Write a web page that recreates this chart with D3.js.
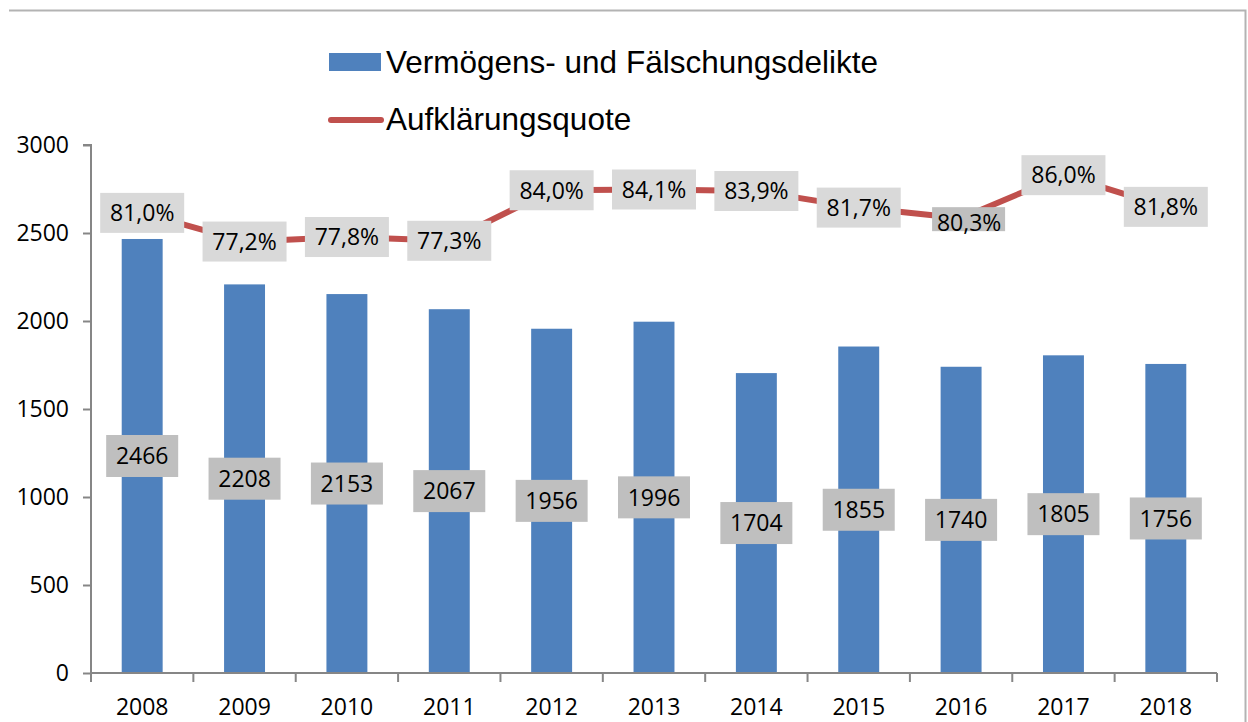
<!DOCTYPE html>
<html>
<head>
<meta charset="utf-8">
<script src="https://cdn.jsdelivr.net/npm/d3@7"></script>
<style>
  body { margin: 0; background: #fff; }
</style>
</head>
<body>
<script>
let width = 1248;
let height = 722;

// data
let years = ["2008", "2009", "2010", "2011", "2012", "2013", "2014", "2015", "2016", "2017", "2018"];
let cases = [2466, 2208, 2153, 2067, 1956, 1996, 1704, 1855, 1740, 1805, 1756];
let rates = [81.0, 77.2, 77.8, 77.3, 84.0, 84.1, 83.9, 81.7, 80.3, 86.0, 81.8];
let yTicks = [0, 500, 1000, 1500, 2000, 2500, 3000];
let barName = "Vermögens- und Fälschungsdelikte";
let lineName = "Aufklärungsquote";

let svg = d3.select("body")
            .append("svg")
            .attr("width", width)
            .attr("height", height);

let numFont = "'Open Sans', sans-serif";
let numSize = "23px";
let legendFont = "'Liberation Sans', Arial, sans-serif";
let axisColor = "#868686";

// frame: top and right edge only visible
svg.append("path")
    .attr("d", "M9,10.5 H1245.5 V722")
    .attr("fill", "none")
    .attr("stroke", "#b3b3b3")
    .attr("stroke-width", 2);

let x = d3.scaleBand()
    .domain(years)
    .range([91, 1217])
    .paddingInner(0.6)
    .paddingOuter(0.3);

let y = d3.scaleLinear()
    .domain([0, 3000])
    .range([673, 145]);

// hidden secondary axis for the percentage line
let y2 = d3.scaleLinear()
    .domain([20, 90])
    .range([673, 145]);

// y axis
let yAxis = svg.append("g")
    .attr("transform", "translate(91,0)")
    .call(d3.axisLeft(y).tickValues(yTicks).tickFormat(d => d).tickSize(8).tickPadding(14));
yAxis.select(".domain").attr("stroke", axisColor).attr("stroke-width", 2)
    .attr("d", "M-8," + y(3000) + "H0V" + y(0));
yAxis.selectAll(".tick line").attr("stroke", axisColor).attr("stroke-width", 2);
yAxis.selectAll(".tick text")
    .style("font-family", numFont)
    .style("font-size", numSize)
    .attr("fill", "#000");

// bars
svg.append("g")
    .selectAll("rect")
    .data(cases)
    .join("rect")
    .attr("x", (d, i) => x(years[i]))
    .attr("y", d => y(d))
    .attr("width", x.bandwidth())
    .attr("height", d => y(0) - y(d))
    .attr("fill", "#4f81bd");

// x axis
let xAxis = svg.append("g")
    .attr("transform", "translate(0," + y(0) + ")")
    .call(d3.axisBottom(x).tickSize(0).tickPadding(26));
xAxis.select(".domain").attr("stroke", axisColor).attr("stroke-width", 2)
    .attr("d", "M91,0H1217");
xAxis.selectAll(".tick text")
    .style("font-family", numFont)
    .style("font-size", numSize)
    .attr("fill", "#000");
let sepTicks = d3.range(years.length + 1).map(i => 91 + i * (1217 - 91) / years.length);
xAxis.selectAll(".sep")
    .data(sepTicks)
    .join("line")
    .attr("class", "sep")
    .attr("x1", d => d).attr("x2", d => d)
    .attr("y1", 0).attr("y2", 9)
    .attr("stroke", axisColor)
    .attr("stroke-width", 2);

// bar labels
let barLab = svg.append("g")
    .selectAll("g")
    .data(cases)
    .join("g")
    .attr("transform", (d, i) => "translate(" + (x(years[i]) + x.bandwidth() / 2) + "," + y(d / 2) + ")");
barLab.append("rect")
    .attr("x", -36).attr("y", -21)
    .attr("width", 72).attr("height", 42)
    .attr("fill", "#bfbfbf");
barLab.append("text")
    .attr("text-anchor", "middle")
    .attr("dy", "0.36em")
    .style("font-family", numFont)
    .style("font-size", numSize)
    .text(d => d);

// line
let cx = i => x(years[i]) + x.bandwidth() / 2;
let line = d3.line()
    .x((d, i) => cx(i))
    .y(d => y2(d));
svg.append("path")
    .attr("d", line(rates))
    .attr("fill", "none")
    .attr("stroke", "#c0504d")
    .attr("stroke-width", 6)
    .attr("stroke-linejoin", "round");

// line labels
let fmt = v => v.toFixed(1).replace(".", ",") + "%";
let lineLab = svg.append("g")
    .selectAll("g")
    .data(rates)
    .join("g")
    .attr("transform", (d, i) => "translate(" + cx(i) + "," + y2(d) + ")");
lineLab.append("rect")
    .attr("x", (d, i) => i === 8 ? -29 : -42)
    .attr("y", (d, i) => i === 8 ? -11 : -20)
    .attr("width", (d, i) => i === 8 ? 73 : 84)
    .attr("height", (d, i) => i === 8 ? 24 : 40)
    .attr("fill", (d, i) => i === 8 ? "#bfbfbf" : "#d9d9d9");
lineLab.append("text")
    .attr("text-anchor", "middle")
    .attr("x", (d, i) => i === 8 ? 8 : 0)
    .attr("dy", (d, i) => i === 8 ? "0.55em" : "0.36em")
    .style("font-family", numFont)
    .style("font-size", numSize)
    .text(d => fmt(d));

// legend
let legend = svg.append("g");
legend.append("rect")
    .attr("x", 329).attr("y", 53)
    .attr("width", 52).attr("height", 18)
    .attr("fill", "#4f81bd");
legend.append("text")
    .attr("x", 386).attr("y", 73)
    .style("font-family", legendFont)
    .style("font-size", "31.5px")
    .text(barName);
legend.append("line")
    .attr("x1", 331).attr("x2", 381)
    .attr("y1", 120).attr("y2", 120)
    .attr("stroke", "#c0504d")
    .attr("stroke-width", 6)
    .attr("stroke-linecap", "round");
legend.append("text")
    .attr("x", 386).attr("y", 130)
    .style("font-family", legendFont)
    .style("font-size", "31.5px")
    .text(lineName);
</script>
</body>
</html>
